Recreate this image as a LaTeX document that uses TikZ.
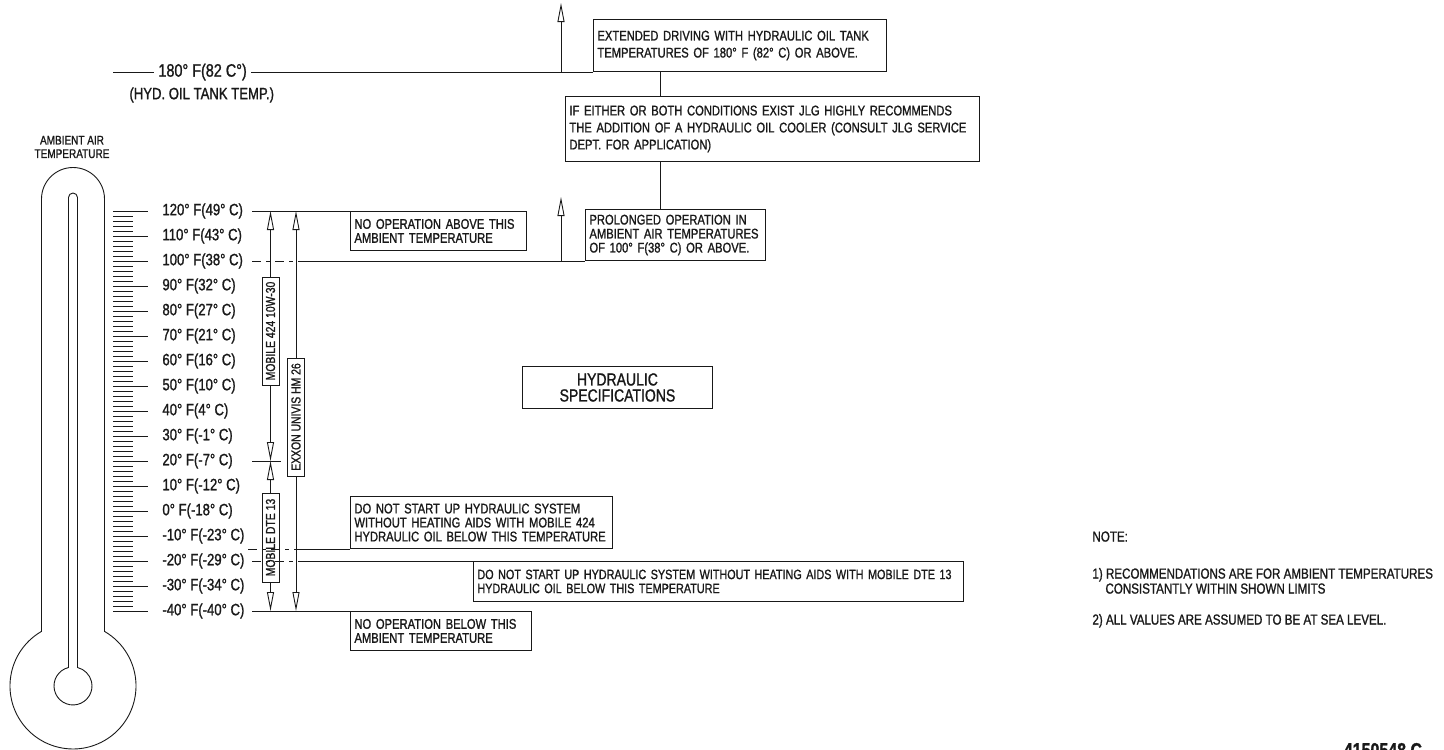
\documentclass[tikz,border=0pt]{standalone}
\usepackage{fontspec}
\setmainfont{Liberation Sans}[FakeStretch=0.8, FakeBold=1.2]
\usepackage{tikz}
\usetikzlibrary{arrows.meta,positioning,calc}
\definecolor{plateInk}{RGB}{25, 25, 25}

\tikzset{
  memo/.style={draw=plateInk, align=left, inner xsep=4pt, inner ysep=2pt,
    font=\fontsize{14pt}{14pt}\selectfont},
  tempmark/.style={anchor=west, inner xsep=4pt, font=\fontsize{16.4pt}{18pt}\selectfont},
  oilbar/.style={draw=plateInk, rotate=90, minimum height=17pt, inner sep=1pt,
    font=\fontsize{13pt}{13pt}\selectfont},
  limit/.style={-{Triangle[open, length=19pt, width=7pt]}},
  gapline/.style={dash pattern=on 9pt off 5pt on 4pt off 5pt}
}

\begin{document}
\begin{tikzpicture}[x=1pt, y=-1pt, line width=0.9pt, color=plateInk]
\useasboundingbox (0,0) rectangle (1444,750);

% thermometer
\draw (41.5,199) -- (41.5,631.4) arc[start angle=120, end angle=420, radius=63pt]
  -- (104.5,199) arc[start angle=0, end angle=180, radius=31.5pt] -- cycle;
\draw (68.5,197.5) -- (68.5,667.5) arc[start angle=103.7, end angle=436.3, radius=19pt]
  -- (77.5,197.5) arc[start angle=0, end angle=180, radius=4.5pt] -- cycle;
\node[font=\fontsize{12.5pt}{13.5pt}\selectfont, align=center] (ambient) at (72,147) {AMBIENT AIR\\TEMPERATURE};

% scale
\foreach \k in {0,...,80} \draw (113,211+5*\k) -- ++(20,0);
\foreach \i in {0,...,16} \draw (113,211+25*\i) -- ++(35,0);
\foreach \f/\c [count=\i from 0] in {120/49,110/43,100/38,90/32,80/27,70/21,60/16,50/10,40/4,
    30/-1,20/-7,10/-12,0/-18,-10/-23,-20/-29,-30/-34,-40/-40}
  \node[tempmark] (t\i) at (158,211+25*\i) {\f° F(\c° C)};

% tank temperature
\coordinate (k180) at (113,72);
\node[tempmark, font=\fontsize{18pt}{20pt}\selectfont] (l180) at (154,72) {180° F(82 C°)};
\node[tempmark] (hydtank) at (125,95) {(HYD. OIL TANK TEMP.)};

% boxes
\node[memo, anchor=south west, font=\fontsize{14pt}{17pt}\selectfont, text width=285pt, minimum height=52pt] (extd) at (593,72)
  {EXTENDED DRIVING WITH HYDRAULIC OIL TANK\\TEMPERATURES OF 180° F (82° C) OR ABOVE.};
\node[memo, anchor=north west, font=\fontsize{14pt}{17pt}\selectfont, text width=406pt, minimum height=65pt] (ifboth) at (565,96)
  {IF EITHER OR BOTH CONDITIONS EXIST JLG HIGHLY RECOMMENDS\\THE ADDITION OF A HYDRAULIC OIL COOLER (CONSULT JLG SERVICE\\DEPT. FOR APPLICATION)};
\node[memo, anchor=north west, text width=168pt, minimum height=39pt] (noabove) at (350,211)
  {NO OPERATION ABOVE THIS\\AMBIENT TEMPERATURE};
\node[memo, anchor=south west, text width=172pt, minimum height=51pt] (prolonged) at (585,261)
  {PROLONGED OPERATION IN\\AMBIENT AIR TEMPERATURES\\OF 100° F(38° C) OR ABOVE.};
\node[memo, anchor=north west, align=center, text width=182pt, minimum height=42pt, font=\fontsize{17.5pt}{16pt}\selectfont] (spec) at (522,366)
  {HYDRAULIC\\SPECIFICATIONS};
\node[memo, anchor=south west, text width=254pt, minimum height=52pt] (start424) at (350,549)
  {DO NOT START UP HYDRAULIC SYSTEM\\WITHOUT HEATING AIDS WITH MOBILE 424\\HYDRAULIC OIL BELOW THIS TEMPERATURE};
\node[memo, anchor=north west, font=\fontsize{13.5pt}{14pt}\selectfont, text width=482pt, minimum height=40pt] (startdte) at (473,561)
  {DO NOT START UP HYDRAULIC SYSTEM WITHOUT HEATING AIDS WITH MOBILE DTE 13\\HYDRAULIC OIL BELOW THIS TEMPERATURE};
\node[memo, anchor=north west, text width=173pt, minimum height=39pt] (nobelow) at (350,611)
  {NO OPERATION BELOW THIS\\AMBIENT TEMPERATURE};

% oil ranges
\node[oilbar, minimum width=108pt] (m424) at (270.5,331) {MOBILE 424 10W-30};
\node[oilbar, minimum width=118pt] (univis) at (296,417) {EXXON UNIVIS HM 26};
\node[oilbar, minimum width=89pt] (dte13) at (270.5,537.5) {MOBILE DTE 13};

\coordinate (lx) at (252,0);
\coordinate (dx) at (300,0);
\coordinate (ex20) at (281,0);
\coordinate (vx) at (660,0);
\coordinate (up180) at (561,3);
\coordinate (up100) at (561,197);
\coordinate (cold424) at (248,549);

% connectors
\draw (k180) -- (l180.west);
\draw (l180.east) -- (extd.south west);
\draw[limit] (extd.south west -| up180) -- (up180);
\draw (extd.south -| vx) -- (ifboth.north -| vx);
\draw (ifboth.south -| vx) -- (prolonged.north -| vx);

\draw (t0 -| lx) -- (noabove.north west);
\draw[gapline] (t2 -| lx) -- (t2 -| dx);
\draw (t2 -| dx) -- (prolonged.south west);
\draw[limit] (t2 -| up100) -- (up100);
\draw (t10 -| lx) -- (t10 -| ex20);
\draw[gapline] (cold424) -- (cold424 -| dx);
\draw (cold424 -| dx) -- (start424.south west);
\draw[gapline] (t14 -| lx) -- (t14 -| dx);
\draw (t14 -| dx) -- (startdte.north west);
\draw (t16 -| lx) -- (nobelow.north west);

\draw[limit] (m424.east) -- (m424.east |- t0);
\draw[limit] (m424.west) -- (m424.west |- t10);
\draw[limit] (dte13.east) -- (dte13.east |- t10);
\draw[limit] (dte13.west) -- (dte13.west |- t16);
\draw[limit] (univis.east) -- (univis.east |- t0);
\draw[limit] (univis.west) -- (univis.west |- t16);

% notes
\node[anchor=north west, align=left, inner sep=0pt, font=\fontsize{14.5pt}{15pt}\selectfont] (note) at (1092,531)
  {NOTE:\\[22pt]1) RECOMMENDATIONS ARE FOR AMBIENT TEMPERATURES\\\hspace*{13pt}CONSISTANTLY WITHIN SHOWN LIMITS\\[16pt]2) ALL VALUES ARE ASSUMED TO BE AT SEA LEVEL.};
\node[anchor=base west, font=\bfseries\fontsize{20pt}{20pt}\selectfont] (partno) at (1340,757) {4150548 C};
\end{tikzpicture}
\end{document}
